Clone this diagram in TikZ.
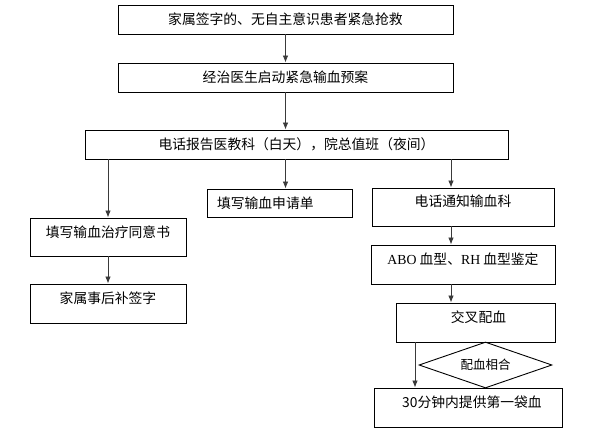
\documentclass[tikz,border=0pt]{standalone}
\usepackage{fontspec}
\usetikzlibrary{arrows.meta,shapes.geometric}
\setmainfont{Noto Sans CJK SC}
\newfontfamily\latinserif{Liberation Serif}
\definecolor{boxline}{HTML}{000000}
\definecolor{arrgray}{HTML}{3A3A3A}

\begin{document}
\begin{tikzpicture}[x=1pt,y=-1pt,
  box/.style={draw=boxline,line width=0.9pt,inner sep=0pt,
    font=\fontsize{13.8}{16}\selectfont},
  lowbox/.style={box,text height=11pt,text depth=0.5pt},
  highbox/.style={box,text height=10pt,text depth=10pt},
  decide/.style={diamond,draw=boxline,line width=0.9pt,inner sep=0pt,aspect=2.9,
    minimum width=133pt,minimum height=46pt,font=\fontsize{12.5}{14}\selectfont},
  arr/.style={-{Latex[length=7pt,width=5.5pt]},arrgray,line width=0.8pt}]

\useasboundingbox (0,0) rectangle (590,444);

% ===== Top: main line =====
\node[lowbox,minimum width=335pt,minimum height=29pt] (alert) at (285.5,19.5)
  {家属签字的、无自主意识患者紧急抢救};
\node[lowbox,minimum width=335pt,minimum height=29pt] (plan) at (285.5,77.5)
  {经治医生启动紧急输血预案};
\node[lowbox,minimum width=423pt,minimum height=29pt] (report) at (296.5,144.5)
  {电话报告医教科（白天），院总值班（夜间）};

% ===== Left column =====
\node[highbox,minimum width=156pt,minimum height=38pt] (consent) at (108,237)
  {填写输血治疗同意书};
\node[highbox,minimum width=156pt,minimum height=39pt] (resign) at (108,303.5)
  {家属事后补签字};

% ===== Middle column =====
\node[lowbox,minimum width=145pt,minimum height=28pt,text width=125pt,align=left]
  (apply) at (279.5,203) {填写输血申请单};

% ===== Right column =====
\coordinate (rcol) at (451,0);
\coordinate (lcol) at (415,0);
\node[highbox,minimum width=182pt,minimum height=38pt] (notify) at (463,207)
  {电话通知输血科};
\node[highbox,minimum width=184pt,minimum height=39pt] (abo) at (463,264.5)
  {{\latinserif ABO} 血型、{\latinserif RH} 血型鉴定};
\node[highbox,minimum width=159pt,minimum height=39pt] (cross) at (475.5,322.5)
  {\hspace*{6pt}交叉配血};
\node[decide] (match) at (485.5,365) {配血相合};
\node[highbox,minimum width=188pt,minimum height=39pt] (first) at (468,407.5)
  {\hspace*{8pt}30分钟内提供第一袋血};

% Arrows
\draw[arr] (alert.south) -- (plan.north);
\draw[arr] (plan.south) -- (plan.south |- report.north);
\draw[arr] (consent.north |- report.south) -- (consent.north);
\draw[arr] (plan.south |- report.south) -- (plan.south |- apply.north);
\draw[arr] (rcol |- report.south) -- (rcol |- notify.north);
\draw[arr] (consent.south) -- (resign.north);
\draw[arr] (rcol |- notify.south) -- (rcol |- abo.north);
\draw[arr] (rcol |- abo.south) -- (rcol |- cross.north);
\draw[arr] (lcol |- cross.south) -- (lcol |- first.north);

\end{tikzpicture}
\end{document}
